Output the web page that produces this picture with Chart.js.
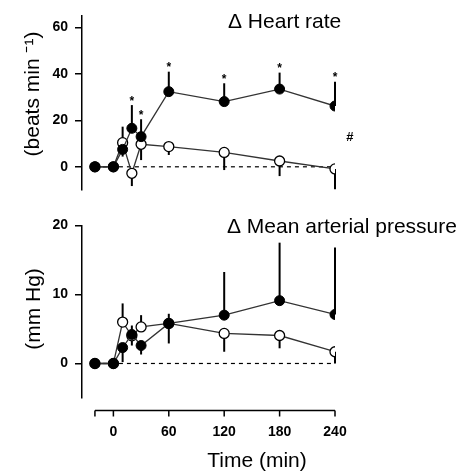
<!DOCTYPE html>
<html>
<head>
<meta charset="utf-8">
<script src="https://cdn.jsdelivr.net/npm/chart.js@4.4.1/dist/chart.umd.min.js"></script>
<style>
    html, body { margin: 0; padding: 0; background: #fff; }
    #cadre { position: relative; width: 471px; height: 472px; }
    canvas { position: absolute; left: 0; }
    #haut { top: 0; }
    #bas { top: 210px; }
</style>
</head>
<body>
<div id="cadre">
    <canvas id="haut" width="471" height="210"></canvas>
    <canvas id="bas" width="471" height="262"></canvas>
</div>
<script>
/********************/
/* Données globales */
/********************/
var temps = [-20, 0, 10, 20, 30, 60, 120, 180, 240];
var ticksX = [-20, 0, 60, 120, 180, 240];
var ligneZeroX = [-20, 240];
var ligneZeroY = [0, 0];

//Fréquence cardiaque (battements/min)
var fcPlein = [0, 0, 7.5, 16.6, 13, 32.4, 28.1, 33.5, 26.2];
var fcPleinHaut = [null, null, null, 26.6, 20.5, 41, 36, 40.6, 36.7];
var fcPleinBas = [null, null, 4.4, null, null, null, null, null, null];
var fcEtoiles = [false, false, false, true, true, true, true, true, true];
var fcVide = [0, 0, 10.4, -2.8, 9.7, 8.7, 6.2, 2.5, -0.9];
var fcVideHaut = [null, null, 17.3, null, null, null, null, null, null];
var fcVideBas = [null, null, null, -8.3, 2.9, 5.1, -1.4, -4, -9.7];
var ticksFc = [0, 20, 40, 60];

//Pression artérielle moyenne (mm Hg)
var papPlein = [0, 0, 2.3, 4.2, 2.6, 5.8, 7.0, 9.1, 7.1];
var papPleinHaut = [null, null, null, 5.5, null, null, 13.25, 17.5, 16.8];
var papPleinBas = [null, null, 0.2, 2.6, 1.3, 2.9, null, null, null];
var papVide = [0, 0, 6.0, 4.0, 5.3, 5.8, 4.35, 4.05, 1.7];
var papVideHaut = [null, null, 8.7, null, 7.0, 7.2, null, null, null];
var papVideBas = [null, null, null, null, null, null, 1.7, 2.2, 0];
var ticksPap = [0, 10, 20];

var police = '"Liberation Sans", Arial, sans-serif';

function points(valeurs, xs) {
    xs = xs || temps;
    return xs.map(function(t, i) { return { x: t, y: valeurs[i] }; });
}

/*************************************/
/* Barres d'erreur et étoiles (plugin) */
/*************************************/
var pluginBarres = {
    id: 'barres',
    beforeDatasetsDraw: function(chart) {
        var ctx = chart.ctx, sx = chart.scales.x, sy = chart.scales.y;
        ctx.save();
        ctx.strokeStyle = '#000';
        ctx.lineWidth = 2;
        chart.data.datasets.forEach(function(ds) {
            [ds.errHaut, ds.errBas].forEach(function(err) {
                if (!err) return;
                ds.data.forEach(function(p, i) {
                    if (err[i] === null) return;
                    var px = sx.getPixelForValue(p.x);
                    ctx.beginPath();
                    ctx.moveTo(px, sy.getPixelForValue(p.y));
                    ctx.lineTo(px, sy.getPixelForValue(err[i]));
                    ctx.stroke();
                });
            });
        });
        ctx.restore();
    },
    afterDatasetsDraw: function(chart) {
        var ctx = chart.ctx, sx = chart.scales.x, sy = chart.scales.y;
        ctx.save();
        ctx.fillStyle = '#000';
        ctx.font = 'bold 12px ' + police;
        ctx.textAlign = 'center';
        ctx.textBaseline = 'alphabetic';
        chart.data.datasets.forEach(function(ds) {
            if (!ds.etoiles) return;
            ds.data.forEach(function(p, i) {
                if (!ds.etoiles[i]) return;
                ctx.fillText('*', sx.getPixelForValue(p.x), sy.getPixelForValue(ds.errHaut[i]) - 0.5);
            });
        });
        ctx.restore();
    }
};

//Textes libres : titre de panneau, titre d'axe y, etc.
function pluginTextes(textes) {
    return {
        id: 'textes',
        afterDraw: function(chart) {
            var ctx = chart.ctx;
            textes.forEach(function(t) {
                ctx.save();
                ctx.fillStyle = '#000';
                ctx.font = t.font;
                ctx.textAlign = t.align || 'left';
                ctx.textBaseline = 'alphabetic';
                var x = t.x, y = t.y;
                if (t.donnees) {
                    x = chart.scales.x.getPixelForValue(t.x);
                    y = chart.scales.y.getPixelForValue(t.y);
                }
                ctx.translate(x, y);
                if (t.rotation) ctx.rotate(t.rotation);
                ctx.fillText(t.texte, 0, 0);
                ctx.restore();
            });
        }
    };
}

//Axe x décalé sous le panneau du bas
var pluginAxeX = {
    id: 'axeX',
    afterDraw: function(chart) {
        var ctx = chart.ctx, sx = chart.scales.x;
        var y0 = chart.chartArea.bottom + 12.5;
        ctx.save();
        ctx.strokeStyle = '#000';
        ctx.lineWidth = 1.5;
        ctx.beginPath();
        ctx.moveTo(sx.getPixelForValue(ticksX[0]), y0);
        ctx.lineTo(sx.getPixelForValue(ticksX[ticksX.length - 1]), y0);
        ticksX.forEach(function(v) {
            var px = sx.getPixelForValue(v);
            ctx.moveTo(px, y0);
            ctx.lineTo(px, y0 + 6);
        });
        ctx.stroke();
        ctx.restore();
    }
};

/************************/
/* Construction commune */
/************************/
function jeuxDonnees(plein, pleinHaut, pleinBas, etoiles, vide, videHaut, videBas) {
    return [
        {
            data: points(plein),
            errHaut: pleinHaut, errBas: pleinBas, etoiles: etoiles,
            borderColor: '#333', borderWidth: 1.3,
            pointRadius: 5, pointBackgroundColor: '#000', pointBorderColor: '#000', pointBorderWidth: 1
        },
        {
            data: points(vide),
            errHaut: videHaut, errBas: videBas,
            borderColor: '#333', borderWidth: 1.3,
            pointRadius: 5, pointBackgroundColor: '#fff', pointBorderColor: '#000', pointBorderWidth: 1.3
        },
        {
            data: points(ligneZeroY, ligneZeroX),
            borderColor: '#000', borderWidth: 1.2, borderDash: [4, 4],
            pointRadius: 0
        }
    ];
}

function axeY(min, max, ticks) {
    return {
        type: 'linear', min: min, max: max,
        afterBuildTicks: function(s) { s.ticks = ticks.map(function(v) { return { value: v }; }); },
        afterFit: function(s) { s.width = 82; },
        grid: { drawOnChartArea: false, drawTicks: true, tickLength: 7, color: '#000', lineWidth: 1.5 },
        border: { display: true, color: '#000', width: 1.5 },
        ticks: { font: { family: police, size: 14, weight: 'bold' }, color: '#000', padding: 7 }
    };
}

/*****************/
/* Panneau haut  */
/*****************/
new Chart(document.getElementById('haut'), {
    type: 'line',
    data: { datasets: jeuxDonnees(fcPlein, fcPleinHaut, fcPleinBas, fcEtoiles, fcVide, fcVideHaut, fcVideBas) },
    options: {
        responsive: false,
        animation: false,
        layout: { padding: { top: 16, bottom: 20, left: 0, right: 136 } },
        plugins: { legend: { display: false }, tooltip: { enabled: false } },
        scales: {
            x: { type: 'linear', min: -34, max: 240, display: false },
            y: axeY(-10, 65, ticksFc)
        }
    },
    plugins: [pluginBarres, pluginTextes([
        { texte: '\u0394 Heart rate', x: 228, y: 28, font: '21px ' + police },
        { texte: '(beats min \u207B\u00B9)', x: 39, y: 94, align: 'center', rotation: -Math.PI / 2, font: '21px ' + police },
        { texte: '#', x: 256, y: 11.2, donnees: true, align: 'center', font: 'bold 13px ' + police }
    ])]
});

/*****************/
/* Panneau bas   */
/*****************/
new Chart(document.getElementById('bas'), {
    type: 'line',
    data: { datasets: jeuxDonnees(papPlein, papPleinHaut, papPleinBas, null, papVide, papVideHaut, papVideBas) },
    options: {
        responsive: false,
        animation: false,
        layout: { padding: { top: 15, bottom: 0, left: 0, right: 136 } },
        plugins: { legend: { display: false }, tooltip: { enabled: false } },
        scales: {
            x: {
                type: 'linear', min: -34, max: 240,
                afterBuildTicks: function(s) { s.ticks = ticksX.map(function(v) { return { value: v }; }); },
                afterFit: function(s) { s.height = 74; },
                grid: { display: false, drawTicks: false },
                border: { display: false },
                ticks: {
                    font: { family: police, size: 14, weight: 'bold' }, color: '#000', padding: 26,
                    maxRotation: 0, autoSkip: false,
                    callback: function(v) { return v === ticksX[0] ? '' : v; }
                }
            },
            y: axeY(-5, 20, ticksPap)
        }
    },
    plugins: [pluginBarres, pluginAxeX, pluginTextes([
        { texte: '\u0394 Mean arterial pressure', x: 227, y: 23, font: '21px ' + police },
        { texte: '(mm Hg)', x: 40, y: 99, align: 'center', rotation: -Math.PI / 2, font: '21px ' + police },
        { texte: 'Time (min)', x: 257, y: 256.5, align: 'center', font: '21px ' + police }
    ])]
});
</script>
</body>
</html>
